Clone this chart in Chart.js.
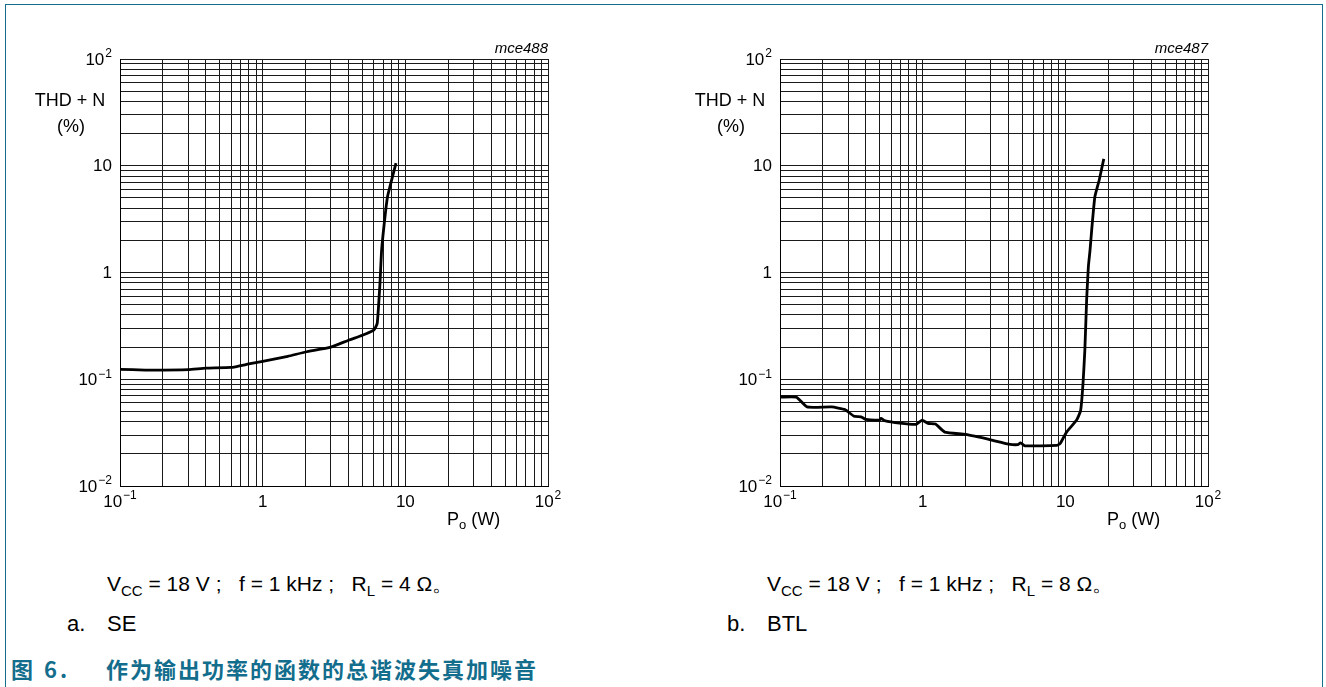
<!DOCTYPE html>
<html>
<head>
<meta charset="utf-8">
<script src="https://cdn.jsdelivr.net/npm/chart.js@4.4.1/dist/chart.umd.min.js"></script>
<style>
  body { margin: 0; background: #fff; width: 1326px; height: 687px; overflow: hidden; position: relative;
         font-family: "Liberation Sans", Arial, sans-serif; }
  #frame { position: absolute; left: 5px; top: 4px; width: 1316px; height: 700px;
           border: 1.5px solid #136d8c; border-bottom: none; }
  canvas { position: absolute; }
  #c1 { left: 0; top: 30px; }
  #c2 { left: 660px; top: 30px; }
  .cond { position: absolute; font-size: 21px; color: #000; white-space: pre; line-height: 24px; }
  .cond sub { font-size: 15px; vertical-align: -5px; }
  .sub { position: absolute; font-size: 22px; color: #000; line-height: 24px; }
  .title { position: absolute; top: 654px; font-family: "Noto Sans CJK SC", sans-serif; font-weight: bold;
           font-size: 22px; line-height: 28px; color: #136d8c; white-space: pre; }
</style>
</head>
<body>
<div id="frame"></div>
<canvas id="c1" width="660" height="520"></canvas>
<canvas id="c2" width="660" height="520"></canvas>

<div class="cond" style="left:107px; top:572px;">V<sub>CC</sub> = 18 V ;   f = 1 kHz ;   R<sub>L</sub> = 4 Ω。</div>
<div class="sub" style="left:67px; top:612px;">a.</div>
<div class="sub" style="left:107px; top:612px;">SE</div>
<div class="cond" style="left:767px; top:572px;">V<sub>CC</sub> = 18 V ;   f = 1 kHz ;   R<sub>L</sub> = 8 Ω。</div>
<div class="sub" style="left:727px; top:612px;">b.</div>
<div class="sub" style="left:767px; top:612px;">BTL</div>
<div class="title" style="left:11px; letter-spacing:3px;">图 6.</div>
<div class="title" style="left:106px; letter-spacing:2px;">作为输出功率的函数的总谐波失真加噪音</div>

<script>
// SE curve (R_L = 4 ohm)
const sePower = [0.1, 0.15, 0.2, 0.3, 0.4, 0.6, 0.8, 1, 1.5, 2, 3, 4, 5, 6, 6.35, 6.64, 6.82, 7.2, 7.5, 7.8, 8.6];
const seThd = [0.124, 0.122, 0.122, 0.123, 0.127, 0.129, 0.139, 0.147, 0.164, 0.18, 0.2, 0.232, 0.258, 0.288, 0.333, 0.79, 1.62, 3.33, 5.13, 6.37, 10.6];

// BTL curve (R_L = 8 ohm)
const btlPower = [0.1, 0.13, 0.155, 0.23, 0.285, 0.33, 0.37, 0.4, 0.5, 0.51, 0.54, 0.69, 0.9, 0.99, 1.09, 1.23, 1.43, 2.0, 3.0, 4.0, 4.65, 4.85, 5.2, 8.7, 9.2, 10.2, 12.0, 12.8, 13.3, 13.7, 14.1, 14.5, 14.9, 15.3, 16.1, 17.3, 18.6];
const btlThd = [0.068, 0.068, 0.055, 0.055, 0.052, 0.045, 0.0445, 0.042, 0.0415, 0.043, 0.041, 0.0388, 0.0378, 0.0415, 0.0386, 0.038, 0.032, 0.0304, 0.0271, 0.0247, 0.0244, 0.0254, 0.0238, 0.024, 0.025, 0.032, 0.0415, 0.051, 0.091, 0.187, 0.55, 1.13, 1.62, 2.5, 5.1, 7.4, 11.6];

// axis labels (base, exponent)
const xTickVals = [0.1, 1, 10, 100];
const xTickText = [["10", "−1"], ["1", ""], ["10", ""], ["10", "2"]];
const yTickVals = [100, 10, 1, 0.1, 0.01];
const yTickText = [["10", "2"], ["10", ""], ["1", ""], ["10", "−1"], ["10", "−2"]];

// grid: 1..9 in every decade
function decadeGrid(lo, hi) {
    const vals = [];
    for (let e = lo; e < hi; e++) {
        for (let m = 1; m < 10; m++) vals.push(+(m * Math.pow(10, e)).toPrecision(3));
    }
    vals.push(Math.pow(10, hi));
    return vals;
}
const xGrid = decadeGrid(-1, 2);
const yGrid = decadeGrid(-2, 2);

const FONT = '"Liberation Sans", Arial, sans-serif';

function drawPowered(ctx, base, exp, x, y, align) {
    ctx.font = "17px " + FONT;
    const wb = ctx.measureText(base).width;
    ctx.font = "12px " + FONT;
    const we = exp ? ctx.measureText(exp).width + 1 : 0;
    const total = wb + we;
    let x0 = x - total / 2;
    if (align === "right") x0 = x - total;
    ctx.textAlign = "left";
    ctx.textBaseline = "middle";
    ctx.font = "17px " + FONT;
    ctx.fillText(base, x0, y);
    if (exp) {
        ctx.font = "12px " + FONT;
        ctx.fillText(exp, x0 + wb + 1, y - 6);
    }
}

const labelPlugin = {
    id: "labels",
    afterDraw(chart, args, opts) {
        const ctx = chart.ctx;
        const area = chart.chartArea;
        const xs = chart.scales.x;
        const ys = chart.scales.y;
        ctx.save();
        ctx.fillStyle = "#000";
        yTickVals.forEach((v, i) => {
            drawPowered(ctx, yTickText[i][0], yTickText[i][1], area.left - 8, ys.getPixelForValue(v) + 1, "right");
        });
        xTickVals.forEach((v, i) => {
            drawPowered(ctx, xTickText[i][0], xTickText[i][1], xs.getPixelForValue(v), area.bottom + 16, "center");
        });

        ctx.textBaseline = "middle";
        ctx.textAlign = "center";
        ctx.font = "18px " + FONT;
        ctx.fillText("THD + N", area.left - 50, area.top + 42);
        ctx.fillText("(%)", area.left - 49, area.top + 68);

        // P_o (W)
        ctx.textAlign = "left";
        let px = area.right - 101;
        const py = area.bottom + 34;
        ctx.fillText("P", px, py);
        px += ctx.measureText("P").width;
        ctx.font = "13px " + FONT;
        ctx.fillText("o", px, py + 5);
        px += ctx.measureText("o").width;
        ctx.font = "18px " + FONT;
        ctx.fillText(" (W)", px, py);

        ctx.textAlign = "right";
        ctx.font = "italic 15px " + FONT;
        ctx.fillText(opts.code, area.right, area.top - 10);
        ctx.restore();
    }
};

function makeChart(id, power, thd, code) {
    const ctx = document.getElementById(id).getContext("2d");
    return new Chart(ctx, {
        type: "line",
        data: {
            datasets: [{
                data: power.map((p, i) => ({ x: p, y: thd[i] })),
                borderColor: "#000",
                borderWidth: 2.8,
                pointRadius: 0,
                tension: 0.15,
                fill: false
            }]
        },
        options: {
            responsive: false,
            animation: false,
            layout: { padding: { left: 120, top: 29, right: 112, bottom: 64 } },
            plugins: {
                legend: { display: false },
                tooltip: { enabled: false },
                labels: { code: code }
            },
            scales: {
                x: {
                    type: "logarithmic",
                    min: 0.1,
                    max: 100,
                    afterBuildTicks: (axis) => { axis.ticks = xGrid.map(v => ({ value: v })); },
                    ticks: { display: false, autoSkip: false },
                    grid: { color: "#1a1a1a", lineWidth: 1, drawTicks: false },
                    border: { color: "#000", width: 1 }
                },
                y: {
                    type: "logarithmic",
                    min: 0.01,
                    max: 100,
                    afterBuildTicks: (axis) => { axis.ticks = yGrid.map(v => ({ value: v })); },
                    ticks: { display: false, autoSkip: false },
                    grid: { color: "#1a1a1a", lineWidth: 1, drawTicks: false },
                    border: { color: "#000", width: 1 }
                }
            }
        },
        plugins: [labelPlugin]
    });
}

makeChart("c1", sePower, seThd, "mce488");
makeChart("c2", btlPower, btlThd, "mce487");
</script>
</body>
</html>
